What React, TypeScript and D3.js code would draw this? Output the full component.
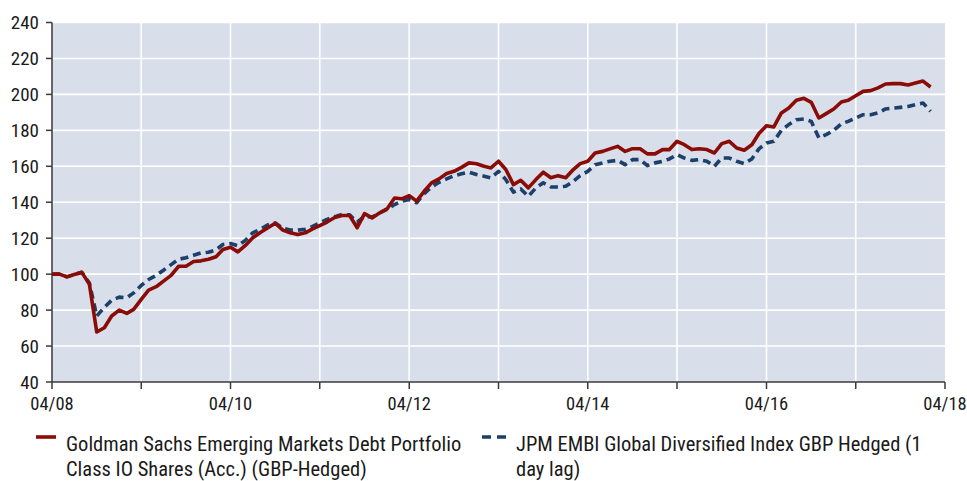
import { useEffect, useRef } from 'react';
import * as d3 from 'd3';

// monthly index levels, starting April 2008
const fundValues = [
  100, 100, 98.5, 99.8, 101, 94.3, 67.8, 70.2, 76.7, 80, 78.2, 80.4,
  86, 91.1, 93, 96.1, 99.3, 104.4, 104.4, 107, 107.4, 108.3, 109.7, 113.7,
  115, 112.4, 116, 120.2, 123.2, 125.8, 128.3, 124.5, 123, 122, 123, 125,
  127, 129, 131.5, 132.6, 132.6, 125.8, 133.7, 131.3, 134, 136.3, 142.4, 141.9,
  143.7, 140.6, 146.1, 150.8, 153, 156, 157.2, 159.4, 161.9, 161.4, 160, 159.1,
  162.8, 158.2, 149.8, 152.2, 148, 152.6, 156.7, 153.6, 154.8, 153.6, 158.2, 161.5,
  162.8, 167.4, 168.3, 169.7, 171.1, 168.3, 169.8, 169.8, 166.9, 166.9, 169.3, 169.3,
  173.9, 172, 169.3, 169.8, 169.3, 167.4, 172.6, 173.9, 170.2, 168.9, 172, 178.2,
  182.6, 181.9, 189.7, 192.4, 196.7, 197.8, 195.6, 186.9, 189.3, 191.9, 195.8, 196.7,
  199.3, 201.7, 202.1, 203.6, 205.8, 206, 206, 205.2, 206.3, 207.4, 204.1,
];

const indexValues = [
  100, 100, 98.5, 99.8, 101, 95, 76.7, 81.5, 85.5, 87.2, 86.9, 89.6,
  93.7, 97, 99.3, 102.2, 105.3, 108.3, 109.1, 110.5, 111.8, 112.2, 113.5, 116.5,
  117, 115.8, 118.8, 123, 125, 127.5, 128.5, 125.5, 124.5, 124.5, 125, 126.4,
  128.5, 130.5, 132, 133.2, 133, 128.9, 132.2, 131.8, 134, 136, 138.7, 140.6,
  141.5, 139.7, 144.8, 148.5, 151.1, 153, 154.8, 155.8, 156.7, 155.4, 154.5, 153.6,
  157.2, 152.6, 145.6, 147.4, 143.3, 148, 150.8, 148.5, 148.5, 148.9, 151.7, 154.8,
  157.2, 160.9, 161.9, 162.8, 163.3, 160.9, 163.7, 163.7, 160.4, 161.9, 162.8, 164.1,
  166.5, 164.6, 163.3, 163.7, 162.8, 160, 164.6, 164.6, 162.8, 161.5, 164.1, 169.7,
  173, 173.9, 180, 183.2, 185.9, 186.3, 185, 175.8, 177.6, 180, 183.7, 185,
  186.9, 188.7, 188.7, 189.7, 191.9, 192.4, 192.8, 193.3, 194.3, 195.2, 190.6,
];

const yTicks = [40, 60, 80, 100, 120, 140, 160, 180, 200, 220, 240];
const xTickLabels = ['04/08', '04/10', '04/12', '04/14', '04/16', '04/18'];

const fundLabel = ['Goldman Sachs Emerging Markets Debt Portfolio', 'Class IO Shares (Acc.) (GBP-Hedged)'];
const indexLabel = ['JPM EMBI Global Diversified Index GBP Hedged (1', 'day lag)'];

const RED = '#8a0c06';
const BLUE = '#1c3f6c';
const FONT = '"Liberation Sans Narrow", "Roboto Condensed", "Arial Narrow", sans-serif';

export default function App() {
  const svgRef = useRef<SVGSVGElement>(null);

  useEffect(() => {
    if (!svgRef.current) return;
    const svg = d3.select(svgRef.current);
    svg.selectAll('*').remove();

    const width = 967;
    const height = 481;
    const margin = { top: 22.5, right: 22, bottom: 99, left: 52 };

    const start = new Date(2008, 3, 1);
    const end = new Date(2018, 3, 1);
    const dateOf = (i: number) => d3.timeMonth.offset(start, i);

    const x = d3.scaleTime().domain([start, end]).range([margin.left, width - margin.right]);
    const y = d3.scaleLinear().domain([40, 240]).range([height - margin.bottom, margin.top]);

    const g = svg.append('g');

    // plot background
    g.append('rect')
      .attr('x', x(start))
      .attr('y', y(240))
      .attr('width', x(end) - x(start))
      .attr('height', y(40) - y(240))
      .attr('fill', '#d9dfea');

    const years = d3.range(0, 11).map(k => new Date(2008 + k, 3, 1));

    // grid
    g.selectAll('.hgrid')
      .data(yTicks.slice(1))
      .join('line')
      .attr('x1', x(start))
      .attr('x2', x(end))
      .attr('y1', d => y(d))
      .attr('y2', d => y(d))
      .attr('stroke', '#fff')
      .attr('stroke-width', 1.6);

    g.selectAll('.vgrid')
      .data(years.slice(1, -1))
      .join('line')
      .attr('x1', d => x(d))
      .attr('x2', d => x(d))
      .attr('y1', y(240))
      .attr('y2', y(40))
      .attr('stroke', '#fff')
      .attr('stroke-width', 1.6);

    // axes
    const axisColor = '#3a3a3a';
    g.append('line')
      .attr('x1', x(start)).attr('x2', x(start))
      .attr('y1', y(240)).attr('y2', y(40))
      .attr('stroke', axisColor).attr('stroke-width', 1.5);
    g.append('line')
      .attr('x1', x(start)).attr('x2', x(end))
      .attr('y1', y(40)).attr('y2', y(40))
      .attr('stroke', axisColor).attr('stroke-width', 1.5);

    g.selectAll('.ytick')
      .data(yTicks)
      .join('line')
      .attr('x1', x(start) - 6)
      .attr('x2', x(start))
      .attr('y1', d => y(d))
      .attr('y2', d => y(d))
      .attr('stroke', axisColor)
      .attr('stroke-width', 1.5);

    g.selectAll('.ylabel')
      .data(yTicks)
      .join('text')
      .attr('x', x(start) - 13)
      .attr('y', d => y(d))
      .attr('dy', '0.36em')
      .attr('text-anchor', 'end')
      .attr('font-family', FONT)
      .attr('font-size', 19)
      .attr('fill', '#1a1a1a')
      .text(d => d);

    g.selectAll('.xtick')
      .data(years)
      .join('line')
      .attr('x1', d => x(d))
      .attr('x2', d => x(d))
      .attr('y1', y(40))
      .attr('y2', y(40) + 7)
      .attr('stroke', axisColor)
      .attr('stroke-width', 1.5);

    g.selectAll('.xlabel')
      .data(xTickLabels)
      .join('text')
      .attr('x', (_, i) => x(years[i * 2]))
      .attr('y', y(40) + 28)
      .attr('text-anchor', 'middle')
      .attr('font-family', FONT)
      .attr('font-size', 18.5)
      .attr('fill', '#1a1a1a')
      .text(d => d);

    // series
    const line = d3.line<number>()
      .x((_, i) => x(dateOf(i)))
      .y(d => y(d));

    g.append('path')
      .datum(indexValues)
      .attr('d', line)
      .attr('fill', 'none')
      .attr('stroke', BLUE)
      .attr('stroke-width', 3.6)
      .attr('stroke-dasharray', '8,5')
      .attr('stroke-linejoin', 'round');

    g.append('path')
      .datum(fundValues)
      .attr('d', line)
      .attr('fill', 'none')
      .attr('stroke', RED)
      .attr('stroke-width', 3.6)
      .attr('stroke-linejoin', 'round');

    // legend
    const legY = 437;
    g.append('line')
      .attr('x1', 36).attr('x2', 56)
      .attr('y1', legY).attr('y2', legY)
      .attr('stroke', RED).attr('stroke-width', 3.6);
    g.append('line')
      .attr('x1', 482).attr('x2', 506)
      .attr('y1', legY).attr('y2', legY)
      .attr('stroke', BLUE).attr('stroke-width', 3.6)
      .attr('stroke-dasharray', '9,6');

    const legendText = (lx: number, lines: string[]) => {
      const t = g.append('text')
        .attr('x', lx)
        .attr('y', 451)
        .attr('font-family', FONT)
        .attr('font-size', 20.5)
        .attr('fill', '#1a1a1a');
      lines.forEach((s, i) => {
        t.append('tspan').attr('x', lx).attr('dy', i === 0 ? 0 : 25).text(s);
      });
    };
    legendText(66, fundLabel);
    legendText(516, indexLabel);
  }, []);

  return (
    <svg
      ref={svgRef}
      width={967}
      height={481}
      style={{ position: 'absolute', left: 0, top: 0, background: '#fff' }}
    />
  );
}
